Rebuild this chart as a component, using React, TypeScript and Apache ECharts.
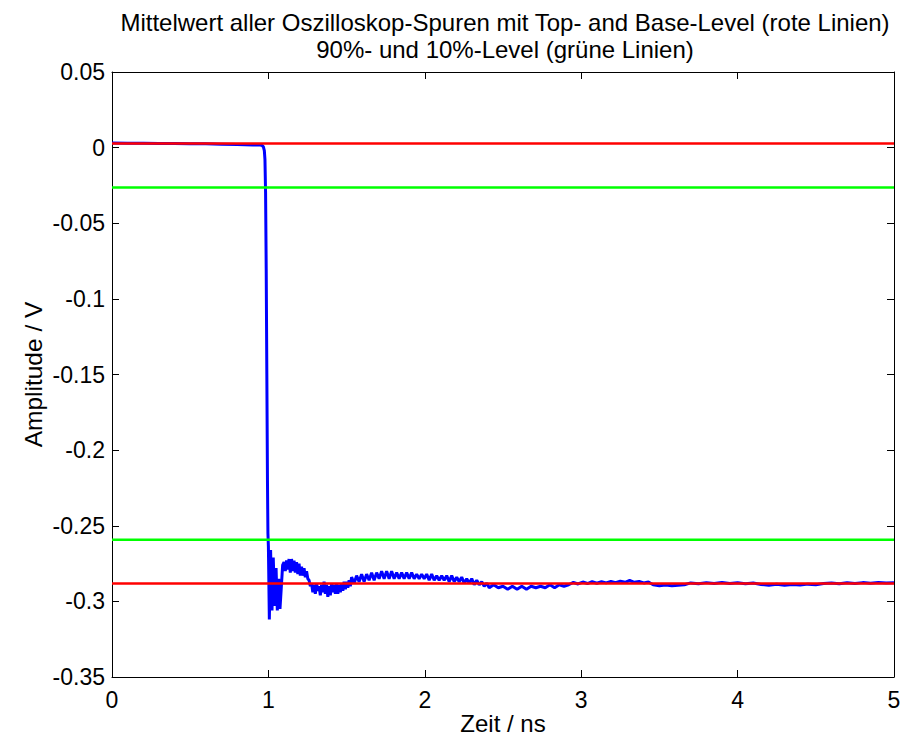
import React, { useEffect, useRef } from "react";
import * as echarts from "echarts";

const titleLines = [
  "Mittelwert aller Oszilloskop-Spuren mit Top- and Base-Level (rote Linien)",
  "90%- und 10%-Level (grüne Linien)",
];
const xAxisName = "Zeit / ns";
const yAxisName = "Amplitude / V";

const topLevel = 0.0028;
const baseLevel = -0.2882;
const level10 = -0.0263;
const level90 = -0.2593;

const preEdge: [number, number][] = [
  [0, 0.003], [0.1, 0.0029], [0.2, 0.0029], [0.3, 0.0028], [0.4, 0.0027], [0.5, 0.0026],
  [0.6, 0.0025], [0.7, 0.0023], [0.8, 0.0021], [0.85, 0.0019], [0.9, 0.0018], [0.93, 0.0018],
  [0.95, 0.0017], [0.96, 0.0014], [0.968, 0.0005], [0.974, -0.002], [0.978, -0.008],
];
const edge: [number, number][] = [
  [0.982, -0.03], [0.986, -0.08], [0.99, -0.15], [0.994, -0.22], [0.997, -0.255], [1.0, -0.264],
];
const ringing: [number, number][] = [
  [1.006, -0.312], [1.014, -0.266], [1.023, -0.306], [1.031, -0.271], [1.04, -0.303], [1.049, -0.278],
  [1.057, -0.306], [1.066, -0.285], [1.074, -0.305], [1.083, -0.29], [1.091, -0.276], [1.1, -0.274],
  [1.108, -0.28], [1.116, -0.273], [1.124, -0.279], [1.132, -0.272], [1.14, -0.281], [1.148, -0.272],
  [1.156, -0.28], [1.164, -0.273], [1.172, -0.281], [1.18, -0.274], [1.188, -0.282], [1.196, -0.275],
  [1.204, -0.283], [1.212, -0.277], [1.22, -0.283], [1.228, -0.278], [1.236, -0.284], [1.244, -0.28],
  [1.252, -0.285], [1.26, -0.286], [1.268, -0.29], [1.276, -0.288], [1.284, -0.294], [1.292, -0.289],
  [1.3, -0.295], [1.308, -0.288], [1.316, -0.293], [1.324, -0.29], [1.332, -0.296], [1.34, -0.289],
  [1.348, -0.294], [1.356, -0.287], [1.364, -0.295], [1.372, -0.289], [1.38, -0.297], [1.388, -0.29],
  [1.396, -0.296], [1.404, -0.288], [1.412, -0.294], [1.42, -0.289], [1.428, -0.295], [1.436, -0.288],
  [1.444, -0.295], [1.452, -0.289], [1.46, -0.294], [1.468, -0.288], [1.476, -0.293], [1.484, -0.287],
  [1.492, -0.292], [1.5, -0.287], [1.508, -0.291], [1.516, -0.286], [1.524, -0.29],
];
const secondHump: [number, number][] = [
  [1.532, -0.284], [1.548, -0.288], [1.564, -0.283], [1.58, -0.287], [1.596, -0.282], [1.612, -0.287],
  [1.628, -0.282], [1.644, -0.286], [1.66, -0.281], [1.676, -0.286], [1.692, -0.281], [1.708, -0.285],
  [1.724, -0.28], [1.74, -0.285], [1.756, -0.28], [1.772, -0.285], [1.788, -0.28], [1.804, -0.285],
  [1.82, -0.281], [1.836, -0.285], [1.852, -0.281], [1.868, -0.285], [1.884, -0.281], [1.9, -0.285],
  [1.916, -0.281], [1.932, -0.285], [1.948, -0.282], [1.964, -0.285], [1.98, -0.282], [1.996, -0.285],
  [2.012, -0.282], [2.028, -0.286], [2.044, -0.282], [2.06, -0.286], [2.076, -0.283], [2.092, -0.286],
  [2.108, -0.283], [2.124, -0.286], [2.14, -0.283], [2.156, -0.287], [2.172, -0.283], [2.188, -0.287],
  [2.204, -0.284], [2.22, -0.287], [2.236, -0.284], [2.252, -0.288], [2.268, -0.285], [2.284, -0.288],
  [2.3, -0.285], [2.316, -0.289], [2.332, -0.286], [2.348, -0.289], [2.364, -0.287], [2.38, -0.29],
  [2.396, -0.288], [2.412, -0.291],
];
const settling: [number, number][] = [
  [2.44, -0.289], [2.47, -0.291], [2.5, -0.29], [2.53, -0.292], [2.56, -0.29], [2.59, -0.292],
  [2.62, -0.29], [2.65, -0.292], [2.68, -0.29], [2.71, -0.291], [2.74, -0.29], [2.77, -0.291],
  [2.8, -0.289], [2.83, -0.291], [2.86, -0.289], [2.89, -0.29], [2.92, -0.289],
  [2.95, -0.2875], [2.98, -0.2885], [3.01, -0.2872], [3.04, -0.2882], [3.07, -0.287], [3.1, -0.288],
  [3.13, -0.287], [3.16, -0.2878], [3.19, -0.2868], [3.22, -0.2876], [3.25, -0.2866], [3.28, -0.2874],
  [3.31, -0.2862], [3.34, -0.2874], [3.37, -0.2868], [3.4, -0.2878], [3.43, -0.2872],
  [3.46, -0.289], [3.5, -0.2896], [3.54, -0.2892], [3.58, -0.2897], [3.62, -0.2893], [3.66, -0.289],
  [3.7, -0.2878], [3.75, -0.2884], [3.8, -0.2876], [3.85, -0.2882], [3.9, -0.2875], [3.95, -0.2882],
  [4.0, -0.2877], [4.05, -0.2884], [4.1, -0.2879], [4.15, -0.2888], [4.2, -0.2893], [4.25, -0.2887],
  [4.3, -0.2893], [4.35, -0.2888], [4.4, -0.2892], [4.45, -0.2886], [4.5, -0.289], [4.55, -0.2882],
  [4.6, -0.2878], [4.65, -0.2884], [4.7, -0.2877], [4.75, -0.2882], [4.8, -0.2876], [4.85, -0.288],
  [4.9, -0.2875], [4.95, -0.2879], [5.0, -0.2877],
];

const xMin = 0;
const xMax = 5;
const xStep = 1;
const yMin = -0.35;
const yMax = 0.05;
const yStep = 0.05;

const FONT = "'Liberation Sans', Arial, sans-serif";

export default function App() {
  const ref = useRef<HTMLDivElement>(null);
  useEffect(() => {
    if (!ref.current) return;
    const chart = echarts.init(ref.current, undefined, { renderer: "svg" });
    const waveform = [...preEdge, ...edge, ...ringing, ...secondHump, ...settling];
    const hLine = (v: number) => [[xMin, v], [xMax, v]];
    const axisLine = { show: true, onZero: false, lineStyle: { color: "#000", width: 1 } };
    const tick = { show: true, inside: true, length: 7, lineStyle: { color: "#000", width: 1 } };
    chart.setOption({
      animation: false,
      backgroundColor: "#fff",
      title: {
        text: titleLines.join("\n"),
        left: 500,
        textAlign: "center",
        top: 4,
        textStyle: { fontFamily: FONT, fontSize: 24, fontWeight: "normal", color: "#000", lineHeight: 27 },
      },
      grid: { left: 112, top: 72, right: 19, bottom: 58, containLabel: false, outerBoundsMode: "none" },
      xAxis: [
        {
          type: "value", min: xMin, max: xMax, interval: xStep,
          position: "bottom",
          name: xAxisName, nameLocation: "middle", nameGap: 46, nameMoveOverlap: false,
          nameTextStyle: { fontFamily: FONT, fontSize: 24, color: "#000", verticalAlign: "middle" },
          axisLine, axisTick: tick,
          axisLabel: { fontFamily: FONT, fontSize: 23, color: "#000", margin: 11 },
          splitLine: { show: false },
        },
        {
          type: "value", min: xMin, max: xMax, interval: xStep,
          position: "top",
          axisLine, axisTick: tick, axisLabel: { show: false }, splitLine: { show: false },
        },
      ],
      yAxis: [
        {
          type: "value", min: yMin, max: yMax, interval: yStep,
          position: "left",
          name: yAxisName, nameLocation: "middle", nameGap: 79, nameRotate: 90, nameMoveOverlap: false,
          nameTextStyle: { fontFamily: FONT, fontSize: 24.5, color: "#000", verticalAlign: "middle" },
          axisLine, axisTick: tick,
          axisLabel: { fontFamily: FONT, fontSize: 23, color: "#000", margin: 7 },
          splitLine: { show: false },
        },
        {
          type: "value", min: yMin, max: yMax, interval: yStep,
          position: "right",
          axisLine, axisTick: tick, axisLabel: { show: false }, splitLine: { show: false },
        },
      ],
      series: [
        {
          type: "line", data: waveform, showSymbol: false, symbol: "none",
          lineStyle: { color: "#0000ff", width: 3 },
        },
        {
          type: "line", data: hLine(topLevel), symbol: "none",
          lineStyle: { color: "#ff0000", width: 2.5 },
        },
        {
          type: "line", data: hLine(baseLevel), symbol: "none",
          lineStyle: { color: "#ff0000", width: 2.5 },
        },
        {
          type: "line", data: hLine(level10), symbol: "none",
          lineStyle: { color: "#00ff00", width: 2.5 },
        },
        {
          type: "line", data: hLine(level90), symbol: "none",
          lineStyle: { color: "#00ff00", width: 2.5 },
        },
      ],
    });
    return () => chart.dispose();
  }, []);
  return <div ref={ref} style={{ width: 913, height: 735, position: "absolute", left: 0, top: 0 }} />;
}
